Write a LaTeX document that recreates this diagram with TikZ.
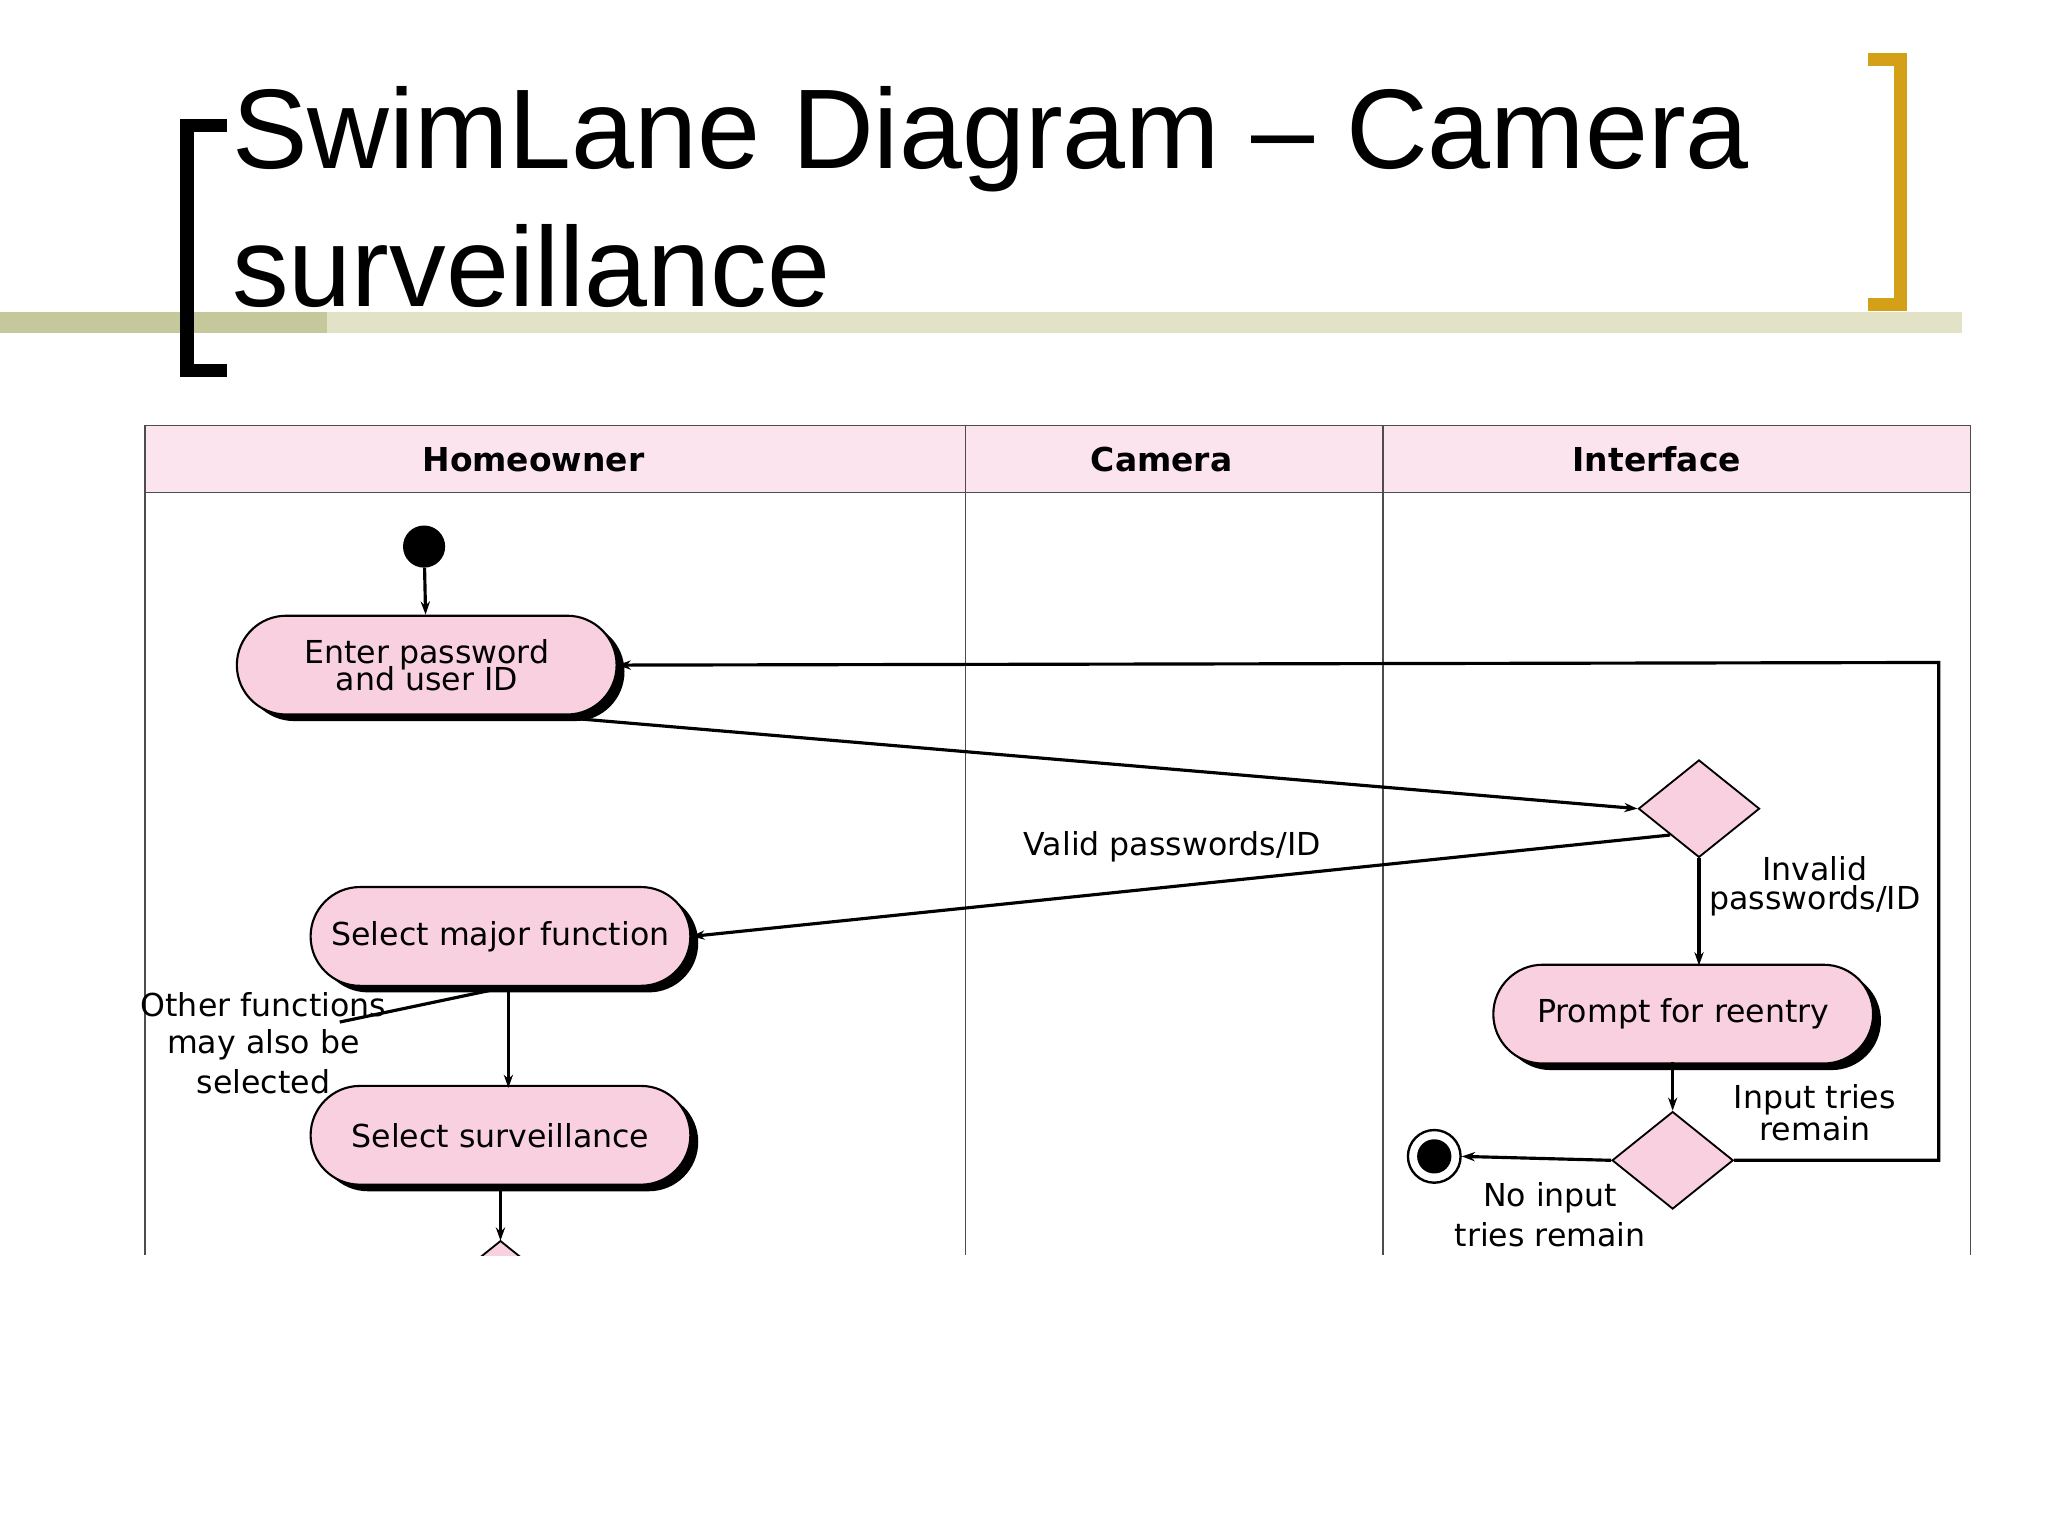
\documentclass[tikz,border=0pt]{standalone}
\usepackage{fontspec}
\setmainfont{Liberation Sans}
\newfontfamily\dg{DejaVu Sans}
\usetikzlibrary{shapes.geometric,shapes.misc,arrows.meta}
\definecolor{nodepink}{HTML}{F9D0E0}
\definecolor{headpink}{HTML}{FCE4EF}
\definecolor{gold}{HTML}{D4A017}
\definecolor{olivedark}{HTML}{C5C89A}
\definecolor{olivelight}{HTML}{E2E2C6}
\begin{document}
\begin{tikzpicture}[x=1pt,y=-1pt,
  act/.style={rounded rectangle,draw=black,line width=1.6pt,fill=nodepink,minimum width=295pt,minimum height=75pt,font=\dg\fontsize{24}{25}\selectfont,align=center,
    preaction={fill=black,transform canvas={xshift=6pt,yshift=-5pt}}},
  dia/.style={diamond,draw=black,line width=1.4pt,fill=nodepink,minimum width=92pt,minimum height=74pt,inner sep=0pt,aspect=1.25},
  arr/.style={-{Stealth[length=10pt,width=7pt]},line width=2.4pt},
  lab/.style={font=\dg\fontsize{24}{22}\selectfont,align=center},
  head/.style={font=\dg\bfseries\fontsize{25}{26}\selectfont}]
\useasboundingbox (0,0) rectangle (1555,1166);
\fill[white] (0,0) rectangle (1555,1166);
% title decorations
\fill[olivedark] (0,237) rectangle (248,253);
\fill[olivelight] (248,237) rectangle (1490,253);
\draw[line width=10pt,line cap=butt] (172,95) -- (142,95) -- (142,281) -- (172,281);
\draw[gold,line width=10pt] (1418,45) -- (1443,45) -- (1443,231) -- (1418,231);
\node[anchor=base west,font=\fontsize{86}{88}\selectfont,inner sep=0] (t1) at (176,128) {SwimLane Diagram – Camera};
\node[anchor=base west,font=\fontsize{86}{88}\selectfont,inner sep=0] (t2) at (176,233) {surveillance};
% table
\fill[headpink] (110,323) rectangle (1496,374);
\draw[line width=1.2pt,black!70] (110,953) -- (110,323) -- (1496,323) -- (1496,953);
\draw[line width=1.2pt,black!70] (110,374) -- (1496,374);
\draw[line width=1.2pt,black!70] (733,323) -- (733,953);
\draw[line width=1.2pt,black!70] (1050,323) -- (1050,953);
\node[head] (h1) at (405,349) {Homeowner};
\node[head] (h2) at (882,349) {Camera};
\node[head] (h3) at (1258,349) {Interface};
% nodes
\node[circle,fill=black,minimum size=32pt,inner sep=0] (st) at (322,415) {};
\node[act] (enter) at (324,505) {Enter password\\[-4pt]and user ID};
\node[act] (major) at (380,711) {Select major function};
\node[act] (surv) at (380,862) {Select surveillance};
\node[act] (prompt) at (1278,770) {Prompt for reentry};
\node[dia] (d1) at (1290,614) {};
\node[dia] (d2) at (1270,881) {};
\node[circle,draw=black,line width=1.8pt,fill=white,minimum size=40pt,inner sep=0] (end) at (1089,878) {};
\fill (end.center) circle (13pt);
\begin{scope}
\clip (100,900) rectangle (700,953);
\node[dia] (d3) at (380,979) {};
\end{scope}
\coordinate (c1) at (1472,881);
\coordinate (c2) at (1472,503);
\coordinate (oth) at (258,776);
% connectors
\draw[arr] (st) -- (enter);
\draw[arr] (430,545) -- (d1.west);
\draw[arr] (1268,634) -- (major.east);
\draw[arr] (d1.south) -- (1290,733);
\draw[arr] (1270,806) -- (d2.north);
\draw[arr] (d2.east) -- (c1) -- (c2) -- (enter.east);
\draw[arr] (d2.west) -- (end.east);
\draw[arr] (386,748) -- (386,826);
\draw[line width=2.4pt] (372,752) -- (oth);
\draw[arr] (380,900) -- (380,942);
% labels
\node[lab] (l1) at (890,643) {Valid passwords/ID};
\node[lab] (l2) at (1378,673) {Invalid\\passwords/ID};
\node[lab] (l3) at (1378,845) {Input tries\\remain};
\node[lab] (l4) at (1177,922) {No input\\[6pt]tries remain};
\node[lab] (l5) at (200,792) {Other functions\\[6pt]may also be\\[6pt]selected};
\end{tikzpicture}
\end{document}
